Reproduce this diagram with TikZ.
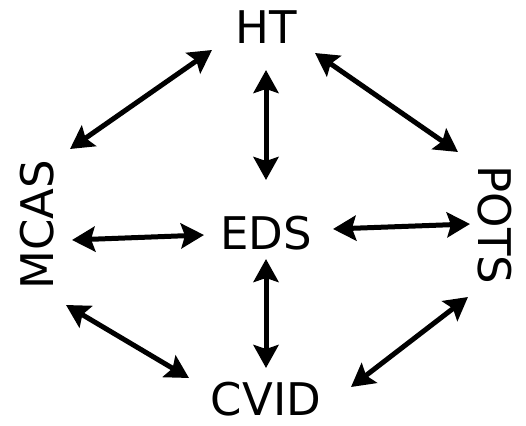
\documentclass[tikz,border=0pt]{standalone}
\usepackage{fontspec}
\setmainfont{DejaVu Sans}
\usetikzlibrary{arrows.meta,calc}
\begin{document}
\begin{tikzpicture}[x=1pt,y=-1pt,
  lbl/.style={inner sep=0pt,anchor=base,font=\fontsize{45}{54}\selectfont},
  biarrow/.style={line width=5pt,{Stealth[length=23pt,width=25pt,inset=4pt]}-{Stealth[length=23pt,width=25pt,inset=4pt]}}]
\useasboundingbox (0,0) rectangle (526,425);
\node[lbl] (HT) at (266,44) {HT};
\node[lbl] (EDS) at (266,249) {EDS};
\node[lbl] (CVID) at (266,415) {CVID};
\node[lbl,rotate=90] (MCAS) at (53,225) {MCAS};
\node[lbl,rotate=-90] (POTS) at (478,225) {POTS};
\draw[biarrow] ($(HT.base)+(-54,6)$) -- ($(MCAS.base)+(17,-76)$);
\draw[biarrow] ($(HT.base)+(49,9)$) -- ($(POTS.base)+(-20,-73)$);
\draw[biarrow] ($(HT.base)+(0,26)$) -- ($(EDS.base)+(0,-69)$);
\draw[biarrow] ($(MCAS.base)+(19,15)$) -- ($(EDS.base)+(-62,-14)$);
\draw[biarrow] ($(EDS.base)+(67,-20)$) -- ($(POTS.base)+(-8,-1)$);
\draw[biarrow] ($(EDS.base)+(0,10)$) -- ($(CVID.base)+(0,-47)$);
\draw[biarrow] ($(MCAS.base)+(13,80)$) -- ($(CVID.base)+(-77,-37)$);
\draw[biarrow] ($(POTS.base)+(-10,72)$) -- ($(CVID.base)+(85,-28)$);
\end{tikzpicture}
\end{document}
